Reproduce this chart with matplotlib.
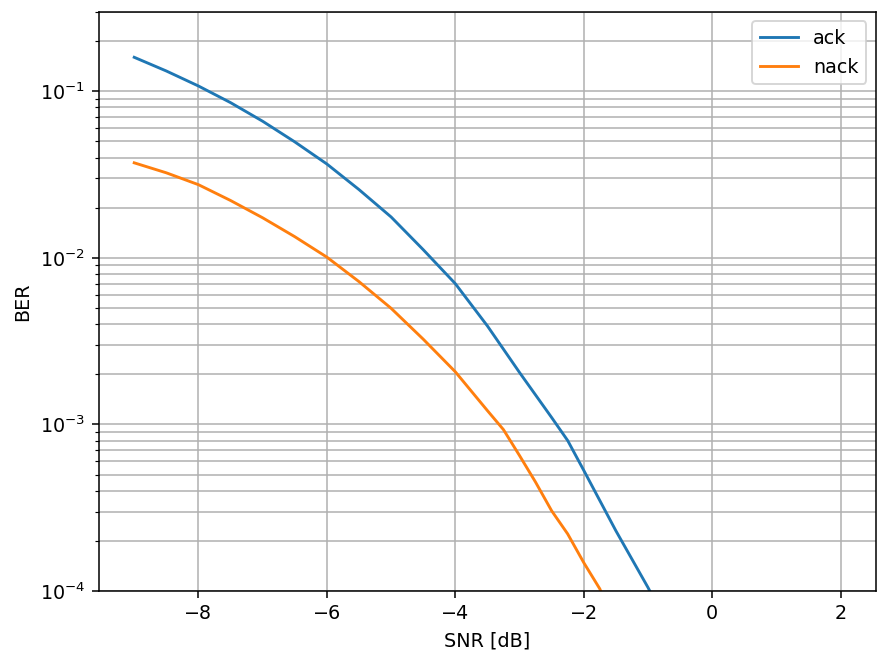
import numpy as np
import matplotlib
matplotlib.use('Agg')
import matplotlib.pyplot as plt

# SNR points and BER values
snr_ack = [-9, -8.5, -8, -7.5, -7, -6.5, -6, -5.5, -5, -4.5, -4, -3.5, -3, -2.5, -2.25, -2, -1.5, -1, -0.5]
ber_ack = [0.160, 0.1324, 0.1076, 0.0855, 0.0661, 0.0497, 0.0366, 0.0257, 0.0176, 0.0112, 0.0070,
           0.0039, 0.00205, 0.0011, 8.0e-4, 5.3e-4, 2.3e-4, 1.05e-4, 4.5e-5]

snr_nack = [-9, -8.5, -8, -7.5, -7, -6.5, -6, -5.5, -5, -4.5, -4, -3.5, -3.25, -3, -2.75, -2.5, -2.25, -2, -1.75, -1.5]
ber_nack = [0.0372, 0.0324, 0.0275, 0.0221, 0.0174, 0.0134, 0.0101, 0.0072, 0.00498, 0.00325, 0.00207,
            0.00121, 9.3e-4, 6.5e-4, 4.5e-4, 3.03e-4, 2.2e-4, 1.48e-4, 1.03e-4, 6e-5]

fig, ax = plt.subplots(figsize=(883 / 138, 657 / 138), dpi=138)
fig.subplots_adjust(left=0.112, right=0.992, bottom=0.1005, top=0.982)

ax.semilogy(snr_ack, ber_ack, label='ack')
ax.semilogy(snr_nack, ber_nack, label='nack')

ax.set_xlim(-9.55, 2.55)
ax.set_ylim(1e-4, 0.3)
ax.set_xlabel('SNR [dB]')
ax.set_ylabel('BER')
ax.grid(True, which='both')
ax.legend(loc='upper right')

plt.savefig('out.png')
